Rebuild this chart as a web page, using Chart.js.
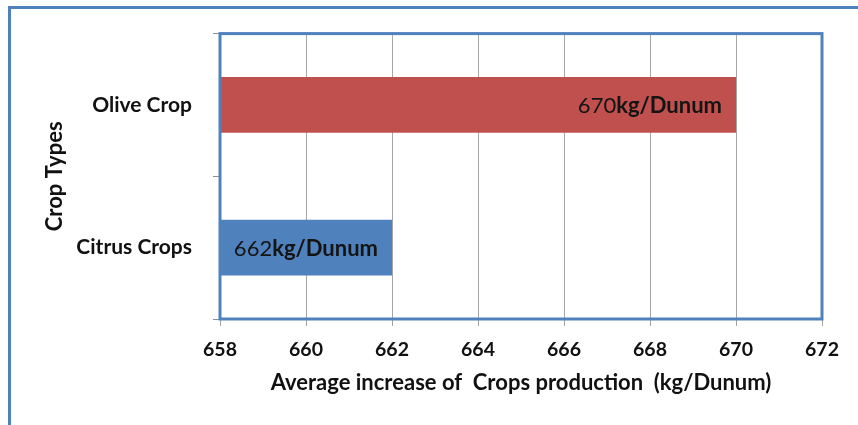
<!DOCTYPE html>
<html>
<head>
<meta charset="utf-8">
<script src="https://cdn.jsdelivr.net/npm/chart.js@4/dist/chart.umd.min.js"></script>
<style>
  html, body { margin: 0; padding: 0; background: #ffffff; }
  #wrap { width: 858px; height: 425px; position: relative; }
</style>
</head>
<body>
<div id="wrap"><canvas id="chart" width="858" height="425"></canvas></div>
<script>
// Crop categories and their average production increase
const categories = ['Olive Crop', 'Citrus Crops'];
const increase = [670, 662];
const barColors = ['#C0504D', '#4F81BD'];
const unitText = 'kg/Dunum';
const xMin = 658;
const xMax = 672;
const xStep = 2;
const xTitle = 'Average increase of  Crops production  (kg/Dunum)';
const yTitle = 'Crop Types';

const FONT = 'Lato, "Open Sans", sans-serif';
const FRAME_BLUE = '#4F81BD';

// Outer frame (top and left edges) and the plot-area box
const framePlugin = {
  id: 'frame',
  beforeDraw(chart) {
    const ctx = chart.ctx;
    ctx.save();
    ctx.strokeStyle = FRAME_BLUE;
    ctx.lineWidth = 3;
    ctx.beginPath();
    ctx.moveTo(9.5, chart.height);
    ctx.lineTo(9.5, 7.5);
    ctx.lineTo(chart.width, 7.5);
    ctx.stroke();
    ctx.restore();
  },
  afterDatasetsDraw(chart) {
    const ctx = chart.ctx;
    const a = chart.chartArea;
    ctx.save();
    ctx.strokeStyle = FRAME_BLUE;
    ctx.lineWidth = 3;
    ctx.strokeRect(a.left, a.top, a.right - a.left, a.bottom - a.top);
    ctx.restore();
  }
};

// Value labels: number in regular weight, unit in bold, inside the bar end
const valueLabelPlugin = {
  id: 'valueLabels',
  afterDatasetsDraw(chart) {
    const ctx = chart.ctx;
    const meta = chart.getDatasetMeta(0);
    const ds = chart.data.datasets[0];
    ctx.save();
    ctx.textBaseline = 'middle';
    ctx.fillStyle = '#141414';
    meta.data.forEach((bar, i) => {
      const num = String(ds.data[i]);
      ctx.font = '22px ' + FONT;
      const wNum = ctx.measureText(num).width;
      ctx.font = 'bold 22px ' + FONT;
      const wUnit = ctx.measureText(unitText).width;
      const endX = bar.x - 14;
      const startX = endX - wNum - wUnit;
      ctx.font = '22px ' + FONT;
      ctx.textAlign = 'left';
      ctx.fillText(num, startX, bar.y + 1);
      ctx.font = 'bold 22px ' + FONT;
      ctx.fillText(unitText, startX + wNum, bar.y + 1);
    });
    ctx.restore();
  }
};

new Chart(document.getElementById('chart'), {
  type: 'bar',
  data: {
    labels: categories,
    datasets: [{
      data: increase,
      backgroundColor: barColors,
      borderWidth: 0,
      base: xMin,
      barPercentage: 0.39,
      categoryPercentage: 1.0
    }]
  },
  options: {
    indexAxis: 'y',
    responsive: false,
    animation: false,
    devicePixelRatio: 1,
    layout: { padding: { top: 33, right: 36, left: 0, bottom: 0 } },
    plugins: {
      legend: { display: false },
      tooltip: { enabled: false }
    },
    scales: {
      x: {
        type: 'linear',
        min: xMin,
        max: xMax,
        ticks: {
          stepSize: xStep,
          color: '#111111',
          padding: 12,
          font: { family: FONT, size: 19.5, weight: 'bold' }
        },
        grid: {
          color: '#A6A6A6',
          lineWidth: 1,
          tickLength: 7,
          drawOnChartArea: true
        },
        border: { display: false },
        title: {
          display: true,
          text: xTitle,
          color: '#111111',
          font: { family: FONT, size: 22, weight: 'bold' },
          padding: { top: 0, bottom: 29 }
        },
        afterFit(scale) { scale.height = 106; }
      },
      y: {
        type: 'category',
        ticks: {
          color: '#111111',
          padding: 21,
          font: { family: FONT, size: 21, weight: 'bold' }
        },
        grid: {
          offset: true,
          drawOnChartArea: false,
          tickLength: 7,
          color: '#8C8C8C'
        },
        border: { display: false },
        title: {
          display: true,
          text: yTitle,
          color: '#111111',
          font: { family: FONT, size: 22, weight: 'bold' },
          padding: { top: 42, bottom: 0 }
        },
        afterFit(scale) { scale.width = 220; }
      }
    }
  },
  plugins: [framePlugin, valueLabelPlugin]
});
</script>
</body>
</html>
